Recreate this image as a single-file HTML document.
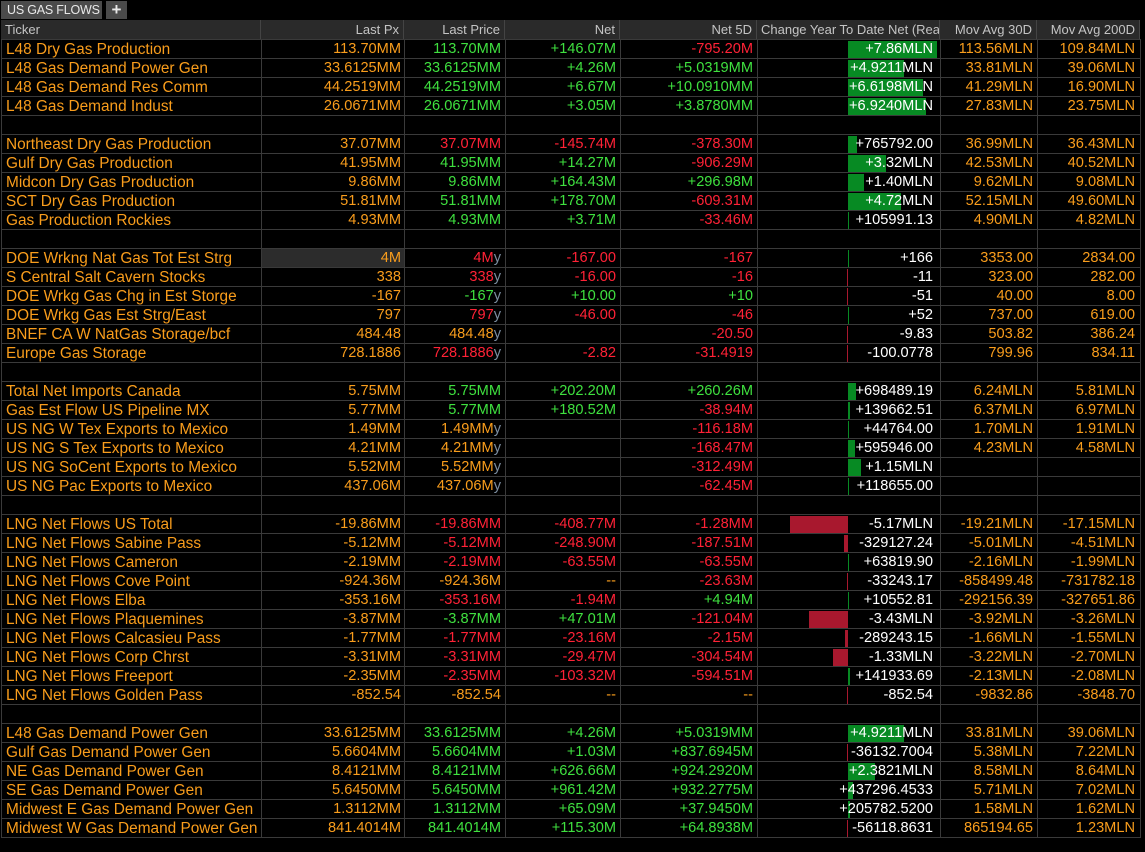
<!DOCTYPE html>
<html><head><meta charset="utf-8">
<style>
html,body{margin:0;padding:0;background:#000;width:1145px;height:852px;overflow:hidden;font-family:"Liberation Sans",sans-serif;}
#wrap{position:relative;width:1145px;height:852px;}
.tab{position:absolute;top:1px;height:18px;background:#4b4b4b;color:#e8e8e8;font-size:12.5px;line-height:18px;white-space:nowrap;overflow:hidden;}
.hdr{position:absolute;top:20px;height:19px;background:#2a2a2a;color:#c4c4c4;font-size:13px;line-height:19px;white-space:nowrap;overflow:hidden;box-sizing:border-box;border-right:1px solid #444;}
.cell{position:absolute;height:19px;line-height:19px;font-size:14.6px;white-space:nowrap;box-sizing:border-box;}
.vl{position:absolute;top:39px;width:1px;height:799px;background:#3a3a3a;}
.hl{position:absolute;left:1px;width:1139px;height:1px;background:#3a3a3a;}
.bar{position:absolute;height:17px;}
.y{color:#7d8ea0}
</style></head><body>
<div id="wrap">
<div class="tab" style="left:1px;width:101px;padding-left:6px;box-sizing:border-box;letter-spacing:-0.2px;">US GAS FLOWS</div>
<div class="tab" style="left:106px;width:21px;text-align:center;font-size:17px;font-weight:bold;">+</div>
<div id="grid"></div>
</div>
<script>
const tickers=["L48 Dry Gas Production","L48 Gas Demand Power Gen","L48 Gas Demand Res Comm","L48 Gas Demand Indust",null,
"Northeast Dry Gas Production","Gulf Dry Gas Production","Midcon Dry Gas Production","SCT Dry Gas Production","Gas Production Rockies",null,
"DOE Wrkng Nat Gas Tot Est Strg","S Central Salt Cavern Stocks","DOE Wrkg Gas Chg in Est Storge","DOE Wrkg Gas Est Strg/East","BNEF CA W NatGas Storage/bcf","Europe Gas Storage",null,
"Total Net Imports Canada","Gas Est Flow US Pipeline MX","US NG W Tex Exports to Mexico","US NG S Tex Exports to Mexico","US NG SoCent Exports to Mexico","US NG Pac Exports to Mexico",null,
"LNG Net Flows US Total","LNG Net Flows Sabine Pass","LNG Net Flows Cameron","LNG Net Flows Cove Point","LNG Net Flows Elba","LNG Net Flows Plaquemines","LNG Net Flows Calcasieu Pass","LNG Net Flows Corp Chrst","LNG Net Flows Freeport","LNG Net Flows Golden Pass",null,
"L48 Gas Demand Power Gen","Gulf Gas Demand Power Gen","NE Gas Demand Power Gen","SE Gas Demand Power Gen","Midwest E Gas Demand Power Gen","Midwest W Gas Demand Power Gen"];
const lastPx=["113.70MM","33.6125MM","44.2519MM","26.0671MM",null,"37.07MM","41.95MM","9.86MM","51.81MM","4.93MM",null,"4M","338","-167","797","484.48","728.1886",null,"5.75MM","5.77MM","1.49MM","4.21MM","5.52MM","437.06M",null,"-19.86MM","-5.12MM","-2.19MM","-924.36M","-353.16M","-3.87MM","-1.77MM","-3.31MM","-2.35MM","-852.54",null,"33.6125MM","5.6604MM","8.4121MM","5.6450MM","1.3112MM","841.4014M"];
const lastPrice=["113.70MM","33.6125MM","44.2519MM","26.0671MM",null,"37.07MM","41.95MM","9.86MM","51.81MM","4.93MM",null,"4My","338y","-167y","797y","484.48y","728.1886y",null,"5.75MM","5.77MM","1.49MMy","4.21MMy","5.52MMy","437.06My",null,"-19.86MM","-5.12MM","-2.19MM","-924.36M","-353.16M","-3.87MM","-1.77MM","-3.31MM","-2.35MM","-852.54",null,"33.6125MM","5.6604MM","8.4121MM","5.6450MM","1.3112MM","841.4014M"];
const lastPriceColor=["g","g","g","g",null,"r","g","g","g","g",null,"r","r","g","r","o","r",null,"g","g","o","o","o","o",null,"r","r","r","o","r","g","r","r","r","o",null,"g","g","g","g","g","g"];
const net=["+146.07M","+4.26M","+6.67M","+3.05M",null,"-145.74M","+14.27M","+164.43M","+178.70M","+3.71M",null,"-167.00","-16.00","+10.00","-46.00","","-2.82",null,"+202.20M","+180.52M","","","","",null,"-408.77M","-248.90M","-63.55M","--","-1.94M","+47.01M","-23.16M","-29.47M","-103.32M","--",null,"+4.26M","+1.03M","+626.66M","+961.42M","+65.09M","+115.30M"];
const net5d=["-795.20M","+5.0319MM","+10.0910MM","+3.8780MM",null,"-378.30M","-906.29M","+296.98M","-609.31M","-33.46M",null,"-167","-16","+10","-46","-20.50","-31.4919",null,"+260.26M","-38.94M","-116.18M","-168.47M","-312.49M","-62.45M",null,"-1.28MM","-187.51M","-63.55M","-23.63M","+4.94M","-121.04M","-2.15M","-304.54M","-594.51M","--",null,"+5.0319MM","+837.6945M","+924.2920M","+932.2775M","+37.9450M","+64.8938M"];
const ytdLabel=["+7.86MLN","+4.9211MLN","+6.6198MLN","+6.9240MLN",null,"+765792.00","+3.32MLN","+1.40MLN","+4.72MLN","+105991.13",null,"+166","-11","-51","+52","-9.83","-100.0778",null,"+698489.19","+139662.51","+44764.00","+595946.00","+1.15MLN","+118655.00",null,"-5.17MLN","-329127.24","+63819.90","-33243.17","+10552.81","-3.43MLN","-289243.15","-1.33MLN","+141933.69","-852.54",null,"+4.9211MLN","-36132.7004","+2.3821MLN","+437296.4533","+205782.5200","-56118.8631"];
const ytdValue=[7.86e6,4.9211e6,6.6198e6,6.924e6,null,765792,3.32e6,1.40e6,4.72e6,105991.13,null,166,-11,-51,52,-9.83,-100.0778,null,698489.19,139662.51,44764,595946,1.15e6,118655,null,-5.17e6,-329127.24,63819.9,-33243.17,10552.81,-3.43e6,-289243.15,-1.33e6,141933.69,-852.54,null,4.9211e6,-36132.7004,2.3821e6,437296.4533,205782.52,-56118.8631];
const movAvg30=["113.56MLN","33.81MLN","41.29MLN","27.83MLN",null,"36.99MLN","42.53MLN","9.62MLN","52.15MLN","4.90MLN",null,"3353.00","323.00","40.00","737.00","503.82","799.96",null,"6.24MLN","6.37MLN","1.70MLN","4.23MLN","","",null,"-19.21MLN","-5.01MLN","-2.16MLN","-858499.48","-292156.39","-3.92MLN","-1.66MLN","-3.22MLN","-2.13MLN","-9832.86",null,"33.81MLN","5.38MLN","8.58MLN","5.71MLN","1.58MLN","865194.65"];
const movAvg200=["109.84MLN","39.06MLN","16.90MLN","23.75MLN",null,"36.43MLN","40.52MLN","9.08MLN","49.60MLN","4.82MLN",null,"2834.00","282.00","8.00","619.00","386.24","834.11",null,"5.81MLN","6.97MLN","1.91MLN","4.58MLN","","",null,"-17.15MLN","-4.51MLN","-1.99MLN","-731782.18","-327651.86","-3.26MLN","-1.55MLN","-2.70MLN","-2.08MLN","-3848.70",null,"39.06MLN","7.22MLN","8.64MLN","7.02MLN","1.62MLN","1.23MLN"];
const headers=["Ticker","Last Px","Last Price","Net","Net 5D","Change Year To Date Net (Real","Mov Avg 30D","Mov Avg 200D"];

const ORANGE="#f99d1c",GREEN="#3fe03f",RED="#ff2236",WHITE="#ffffff";
const colL=[1,261,404,505,620,757,940,1037];
const colR=[261,404,505,620,757,940,1037,1140];
const ROW0=39,RH=19;
const zeroX=848, pxPerMln=11.3, maxW=92;
const grid=document.getElementById('grid');
function colorBySign(s){if(!s||s==='--')return ORANGE;return s[0]==='+'?GREEN:(s[0]==='-'?RED:ORANGE);}
function barX(v){return zeroX+Math.max(-maxW+2,Math.min(maxW,v/1e6*pxPerMln));}
function add(tag,cls,style,html){const e=document.createElement(tag);e.className=cls;e.style.cssText=style;if(html!==undefined)e.innerHTML=html;grid.appendChild(e);return e;}

headers.forEach((h,i)=>{
  const e=add('div','hdr',`left:${colL[i]}px;width:${colR[i]-colL[i]}px;text-align:${i===0||i===5?'left':'right'};padding:0 4px;`,h);
  
  
});
for(let k=0;k<=tickers.length;k++){
  const l=add('div','hl',`top:${ROW0+k*RH}px;`);
  
  
}
colL.concat([1140]).forEach(x=>{
  const v=add('div','vl',`left:${x}px;`);
  
  
});
tickers.forEach((t,i)=>{
  if(t===null)return;
  const top=ROW0+i*RH+1;
  const slug=t.toLowerCase().replace(/[^a-z0-9]+/g,'-');
  const c0=add('div','cell',`left:6px;top:${top}px;color:${ORANGE};font-size:15.4px;`,t);
  
  
  const bg=i===11?'background:#2c2c2c;':'';
  const c1=add('div','cell',`left:${colL[1]+1}px;width:${colR[1]-colL[1]-1}px;top:${top}px;height:18px;line-height:19px;padding-right:3px;text-align:right;color:${ORANGE};${bg}`,lastPx[i]);
  
  
  const lp=lastPrice[i];const lc=lastPriceColor[i];
  const col=lc==='g'?GREEN:lc==='r'?RED:ORANGE;
  const html=lp.endsWith('y')?lp.slice(0,-1)+'<span class="y">y</span>':lp;
  const c2=add('div','cell',`left:${colL[2]}px;width:${colR[2]-colL[2]}px;top:${top}px;padding-right:4px;text-align:right;color:${col};`,html);
  
  
  const c3=add('div','cell',`left:${colL[3]}px;width:${colR[3]-colL[3]}px;top:${top}px;padding-right:4px;text-align:right;color:${colorBySign(net[i])};`,net[i]);
  
  
  const c4=add('div','cell',`left:${colL[4]}px;width:${colR[4]-colL[4]}px;top:${top}px;padding-right:4px;text-align:right;color:${colorBySign(net5d[i])};`,net5d[i]);
  
  
  const v=ytdValue[i];
  const x1=barX(v);
  const w=Math.max(1,Math.abs(x1-zeroX));
  const left=v<0?Math.min(x1,zeroX-1):zeroX;
  const b=add('div','bar',`left:${left}px;width:${w}px;top:${top+1}px;background:${v<0?'#a8182e':'#078a23'};`);
  
  
  const c5=add('div','cell',`left:${colL[5]}px;width:${colR[5]-colL[5]}px;top:${top}px;padding-right:7px;text-align:right;color:${WHITE};`,ytdLabel[i]);
  
  
  const c6=add('div','cell',`left:${colL[6]}px;width:${colR[6]-colL[6]}px;top:${top}px;padding-right:4px;text-align:right;color:${ORANGE};`,movAvg30[i]);
  
  
  const c7=add('div','cell',`left:${colL[7]}px;width:${colR[7]-colL[7]}px;top:${top}px;padding-right:5px;text-align:right;color:${ORANGE};`,movAvg200[i]);
  
  
});
</script>
</body></html>
